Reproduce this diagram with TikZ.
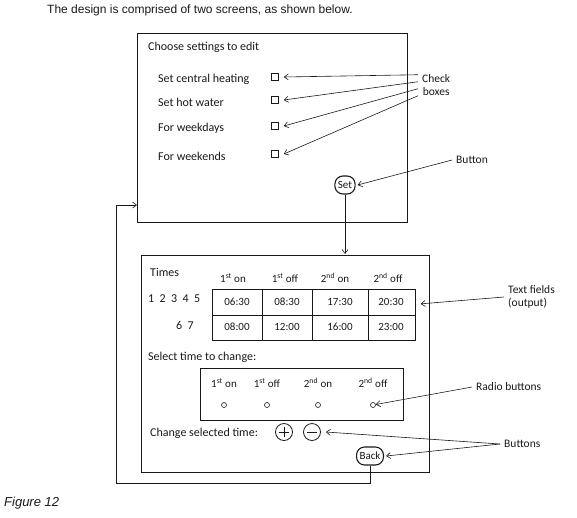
\documentclass[tikz,border=0pt]{standalone}
\usepackage{fontspec}
\setmainfont{Carlito}
\newfontfamily\headfont{Liberation Sans}
\usetikzlibrary{arrows.meta,positioning,calc}

\tikzset{
  lbl/.style={anchor=west, inner sep=0pt, font=\fontsize{12}{14}\selectfont},
  note/.style={inner sep=4pt, font=\fontsize{11.5}{13}\selectfont, align=center},
  screenbox/.style={draw, line width=0.8pt, anchor=north west, inner sep=0pt},
  chkbox/.style={draw, line width=0.6pt, minimum size=7pt, inner sep=0pt},
  btn/.style={draw, line width=1.1pt, rounded corners=8pt, inner sep=3pt, minimum height=18pt, font=\fontsize{11}{13}\selectfont},
  pmbtn/.style={draw, circle, line width=0.8pt, minimum size=17pt, inner sep=0pt},
  pointer/.style={-{Straight Barb[length=4pt,width=6pt]}, line width=0.6pt},
  cell/.style={font=\fontsize{11}{13}\selectfont},
  radio/.style={draw, circle, line width=0.6pt, minimum size=5pt, inner sep=0pt},
}

\begin{document}
\begin{tikzpicture}[x=1pt, y=-1pt, black!90]
    \useasboundingbox (0,0) rectangle (577,517);

    % Page text
    \node[anchor=west, inner sep=0pt, font=\headfont\fontsize{12}{14}\selectfont] (head) at (47,10)
        {The design is comprised of two screens, as shown below.};
    \node[anchor=west, inner sep=0pt, font=\headfont\itshape\fontsize{13}{15}\selectfont] (fig) at (4,503) {Figure 12};

    % Screen 1: settings
    \node[screenbox, minimum width=270, minimum height=189] (scr1) at (137,33) {};
    \node[lbl] (choose) at (148,47) {Choose settings to edit};
    \foreach \y/\t/\n in {79/Set central heating/a, 102/Set hot water/b, 128/For weekdays/c, 156/For weekends/d} {
        \node[lbl] (opt\n) at (158,\y) {\t};
        \node[chkbox] (chk\n) at (275,\y-2) {};
    }
    \node[note, anchor=north west] (chklbl) at (418,70) {Check\\ boxes};
    \foreach \n/\s in {a/10, b/3, c/-4, d/-11} {
        \draw[pointer] ([yshift=\s pt]chklbl.west) -- ([xshift=5pt]chk\n.east);
    }

    \node[btn] (set) at (345,185) {Set};
    \node[note, anchor=west] (btnlbl) at (452,160) {Button};
    \draw[pointer] (btnlbl.west) -- ([xshift=2pt]set.east);

    % Screen 2: times
    \node[screenbox, minimum width=288, minimum height=217] (scr2) at (141,255) {};
    \draw[pointer] (set.south) -- ([yshift=1pt]set.south |- scr2.north);

    \node[lbl] (times) at (150,272) {Times};
    \foreach \x/\t/\n in {233/1\textsuperscript{st} on/a, 285/1\textsuperscript{st} off/b,
                          335/2\textsuperscript{nd} on/c, 388/2\textsuperscript{nd} off/d} {
        \node[cell] (hd\n) at (\x,278) {\t};
    }
    \node[lbl] (days1) at (148,299) {1\ \ 2\ \ 3\ \ 4\ \ 5};
    \node[lbl] (days2) at (176,325) {6\ \ 7};

    \node[draw, line width=0.7pt, anchor=north west, minimum width=203, minimum height=51, inner sep=0pt] (tbl) at (212,289) {};
    \draw[line width=0.7pt] (tbl.west) -- (tbl.east);
    \foreach \x in {262,312,368} {
        \draw[line width=0.7pt] (\x,289) -- (\x,340);
    }
    \foreach \x/\a/\b in {237/06:30/08:00, 287/08:30/12:00, 340/17:30/16:00, 391/20:30/23:00} {
        \node[cell] at (\x,302) {\a};
        \node[cell] at (\x,327) {\b};
    }
    \node[note, align=left, anchor=west] (txtlbl) at (504,297) {Text fields\\ (output)};
    \draw[pointer] (txtlbl.west) -- ([xshift=5pt,yshift=11pt]tbl.east);

    \node[lbl] (select) at (148,357) {Select time to change:};
    \node[draw, line width=0.7pt, anchor=north west, minimum width=203, minimum height=52, inner sep=0pt] (radbox) at (200,368) {};
    \foreach \x/\t/\n in {224/1\textsuperscript{st} on/a, 267/1\textsuperscript{st} off/b,
                          318/2\textsuperscript{nd} on/c, 373/2\textsuperscript{nd} off/d} {
        \node[cell] (rhd\n) at (\x,383) {\t};
        \node[radio] (rad\n) at (\x,405) {};
    }
    \node[note, anchor=west] (radlbl) at (472,387) {Radio buttons};
    \draw[pointer] (radlbl.west) -- ([xshift=14pt,yshift=5pt]radd);

    \node[lbl] (change) at (150,433) {Change selected time:};
    \node[pmbtn] (plus) at (284,432) {};
    \draw[line width=0.8pt] ([xshift=-5pt]plus.center) -- ([xshift=5pt]plus.center)
                            ([yshift=-5pt]plus.center) -- ([yshift=5pt]plus.center);
    \node[pmbtn] (minus) at (312,432) {};
    \draw[line width=0.8pt] ([xshift=-5pt]minus.center) -- ([xshift=5pt]minus.center);

    \node[btn] (back) at (370,456) {Back};
    \node[note, anchor=west] (butlbl) at (500,444) {Buttons};
    \draw[pointer] (butlbl.west) -- ([xshift=5pt]minus.east);
    \draw[pointer] (butlbl.west) -- ([xshift=2pt]back.east);

    % Back returns to screen 1
    \coordinate (retlow) at (116,483);
    \coordinate (rethigh) at (116,205);
    \draw[pointer] (back.south) |- (retlow) -- (rethigh) -- (rethigh -| scr1.west);
\end{tikzpicture}
\end{document}
